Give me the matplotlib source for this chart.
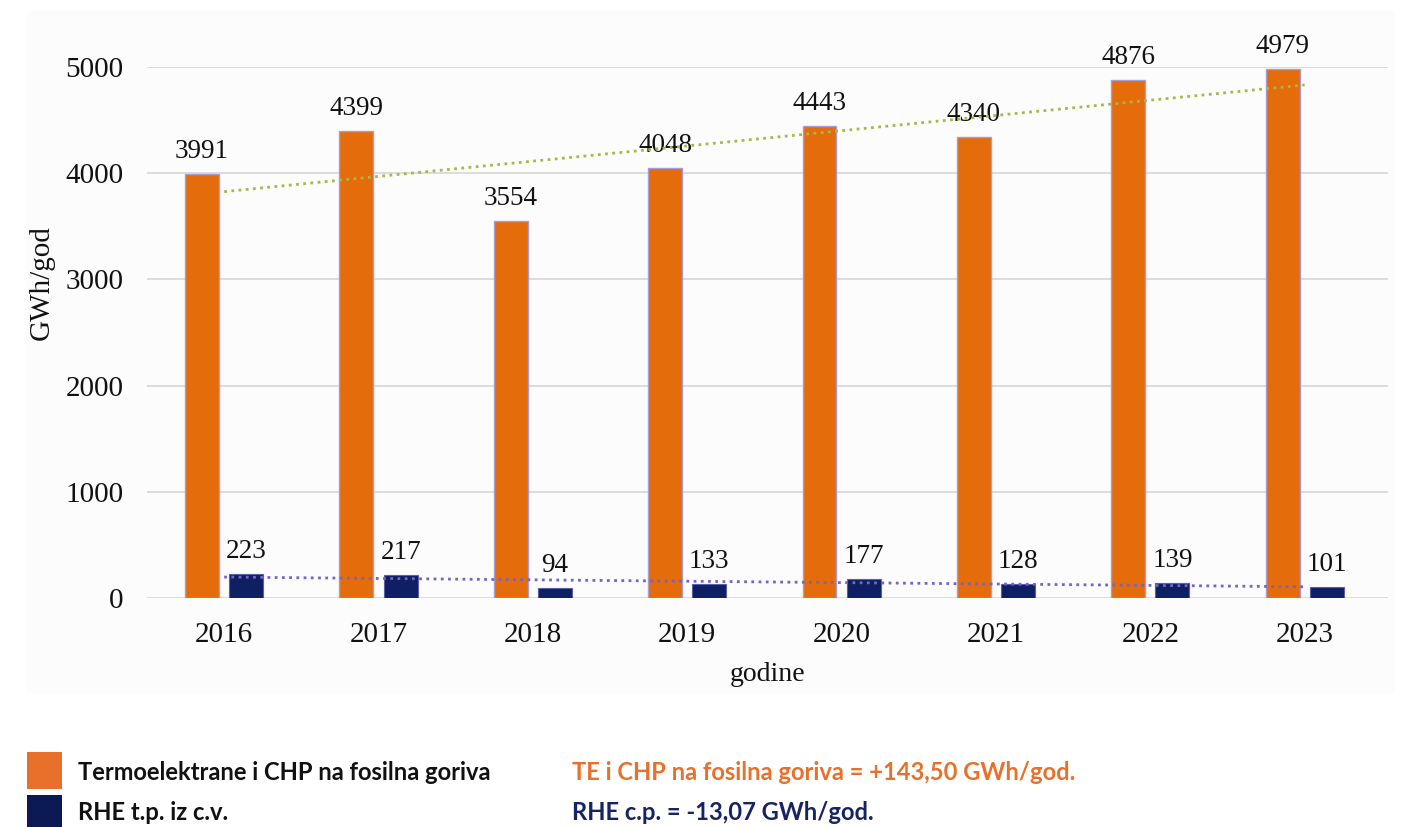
import numpy as np
import matplotlib
matplotlib.use("Agg")
import matplotlib.pyplot as plt
from matplotlib.patches import Rectangle

# annual production, GWh/god
years = ["2016", "2017", "2018", "2019", "2020", "2021", "2022", "2023"]
te_chp = [3991, 4399, 3554, 4048, 4443, 4340, 4876, 4979]
rhe = [223, 217, 94, 133, 177, 128, 139, 101]

te_label = "Termoelektrane i CHP na fosilna goriva"
rhe_label = "RHE t.p. iz c.v."
te_trend_text = "TE i CHP na fosilna goriva = +143,50 GWh/god."
rhe_trend_text = "RHE c.p. = -13,07 GWh/god."

ORANGE = "#e46c0a"
NAVY = "#0e1f63"
LEG_ORANGE = "#e8702a"
LEG_NAVY = "#0b1a55"

W, H = 1404, 827
fig = plt.figure(figsize=(W / 100, H / 100), dpi=100)
fig.patch.set_facecolor("white")

# faint panel behind the chart
fig.patches.append(Rectangle((27 / W, 1 - 693 / H), (1395 - 27) / W, (693 - 10) / H,
                             transform=fig.transFigure, facecolor="#fcfcfc",
                             edgecolor="none", zorder=-1))

ax = fig.add_axes([147 / W, 1 - 598 / H, (1388 - 147) / W, (598 - 67) / H])
ax.set_facecolor("none")

x = np.arange(len(years))
bw = 0.22
off = 0.143

serif = "Liberation Serif"

ax.bar(x - off, te_chp, bw, color=ORANGE, edgecolor="#a99bd3", linewidth=1, zorder=3)
ax.bar(x + off, rhe, bw, color=NAVY, edgecolor="#5b5fa8", linewidth=0.8, zorder=3)

for xi, v in zip(x - off, te_chp):
    ax.annotate(str(v), (xi, v), xytext=(0, 11.5), textcoords="offset points",
                ha="center", va="baseline", fontsize=19.5, family=serif,
                color="#111111", annotation_clip=False)
for xi, v in zip(x + off, rhe):
    ax.annotate(str(v), (xi, v), xytext=(0, 11.5), textcoords="offset points",
                ha="center", va="baseline", fontsize=19.5, family=serif,
                color="#111111", annotation_clip=False)

# linear trends, drawn across category centres
k1, n1 = np.polyfit(x, te_chp, 1)
k2, n2 = np.polyfit(x, rhe, 1)
ax.plot(x, k1 * x + n1, linestyle=(0, (1, 1.6)), color="#a7b74a", lw=2.0, zorder=4)
ax.plot(x, k2 * x + n2, linestyle=(0, (1, 1.6)), color="#7464c4", lw=2.0, zorder=4)

ax.set_xlim(-0.5, 7.54)
ax.set_ylim(0, 5000)
ax.set_yticks(range(0, 5001, 1000))
ax.set_xticks(x)
ax.set_xticklabels(years)
ax.grid(axis="y", color="#d9d9d9", lw=1.3, zorder=0)
ax.set_axisbelow(True)
for s in ax.spines.values():
    s.set_visible(False)
ax.tick_params(length=0, labelsize=21, pad=17, labelcolor="#111111")
for lab in ax.get_xticklabels() + ax.get_yticklabels():
    lab.set_family(serif)

ax.set_xlabel("godine", family=serif, fontsize=20, color="#111111")
ax.xaxis.set_label_coords(0.5, -0.12)
fig.text(42 / W, 1 - 283 / H, "GWh/god", rotation=90, ha="center", va="center",
         family=serif, fontsize=21, color="#111111")

# legend block under the chart
sans = "Lato"
fs = 17.1
fig.patches.append(Rectangle((27 / W, 1 - 789 / H), 35 / W, 37 / H, transform=fig.transFigure,
                             facecolor=LEG_ORANGE, edgecolor="none"))
fig.patches.append(Rectangle((27 / W, 1 - 832 / H), 35 / W, 37 / H, transform=fig.transFigure,
                             facecolor=LEG_NAVY, edgecolor="none"))
fig.text(78 / W, 1 - 773 / H, te_label, ha="left", va="center", family=sans,
         weight="bold", fontsize=fs, color="#111111")
fig.text(78 / W, 1 - 813 / H, rhe_label, ha="left", va="center", family=sans,
         weight="bold", fontsize=fs, color="#111111")
fig.text(572 / W, 1 - 773 / H, te_trend_text, ha="left", va="center", family=sans,
         weight="bold", fontsize=fs, color=LEG_ORANGE)
fig.text(572 / W, 1 - 813 / H, rhe_trend_text, ha="left", va="center", family=sans,
         weight="bold", fontsize=fs, color="#172463")

fig.savefig("out.png", dpi=100)
